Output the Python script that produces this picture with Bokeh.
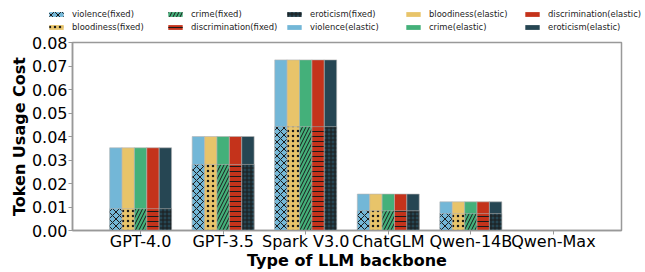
from bokeh.plotting import figure
from bokeh.layouts import column
from bokeh.models import (FactorRange, Range1d, Legend, LegendItem, FixedTicker,
                          NumeralTickFormatter, ColumnDataSource)
from bokeh.transform import dodge
from bokeh.embed import file_html
from bokeh.resources import INLINE

models = ["GPT-4.0", "GPT-3.5", "Spark V3.0", "ChatGLM", "Qwen-14B", "Qwen-Max"]
categories = ["violence", "bloodiness", "crime", "discrimination", "eroticism"]

# token usage cost, fixed strategy
violence_fixed = [0.0093, 0.0281, 0.0442, 0.0084, 0.0072, 0.0]
bloodiness_fixed = [0.0093, 0.0281, 0.0442, 0.0084, 0.0072, 0.0]
crime_fixed = [0.0093, 0.0281, 0.0442, 0.0084, 0.0072, 0.0]
discrimination_fixed = [0.0093, 0.0281, 0.0442, 0.0084, 0.0072, 0.0]
eroticism_fixed = [0.0093, 0.0281, 0.0442, 0.0084, 0.0072, 0.0]

# token usage cost, elastic strategy
violence_elastic = [0.0352, 0.0400, 0.0726, 0.0155, 0.0122, 0.0]
bloodiness_elastic = [0.0352, 0.0400, 0.0726, 0.0155, 0.0122, 0.0]
crime_elastic = [0.0352, 0.0400, 0.0726, 0.0155, 0.0122, 0.0]
discrimination_elastic = [0.0352, 0.0400, 0.0726, 0.0155, 0.0122, 0.0]
eroticism_elastic = [0.0352, 0.0400, 0.0726, 0.0155, 0.0122, 0.0]

y_ticks = [0.00, 0.01, 0.02, 0.03, 0.04, 0.05, 0.06, 0.07, 0.08]

colors = ["#73b7d7", "#e8c46a", "#44b07a", "#c4331b", "#264653"]
hatches = ["x", ".", "/", "-", "+"]
hatch_scales = [7, 5, 7, 5, 4]
offsets = [-0.3, -0.15, 0.0, 0.15, 0.3]
bar_w = 0.15

src = ColumnDataSource(dict(
    model=models,
    violence_fixed=violence_fixed, bloodiness_fixed=bloodiness_fixed,
    crime_fixed=crime_fixed, discrimination_fixed=discrimination_fixed,
    eroticism_fixed=eroticism_fixed,
    violence_elastic=violence_elastic, bloodiness_elastic=bloodiness_elastic,
    crime_elastic=crime_elastic, discrimination_elastic=discrimination_elastic,
    eroticism_elastic=eroticism_elastic,
))

FONT = "DejaVu Sans"
EDGE = "#b4b4b4"
HATCH = "#1a1a1a"


def draw_bars(fig, edge):
    el, fx = {}, {}
    for cat, col, off in zip(categories, colors, offsets):
        el[cat] = fig.vbar(x=dodge("model", off, range=fig.x_range), top=cat + "_elastic",
                           width=bar_w, source=src, fill_color=col, line_color=edge,
                           line_width=0.6)
    for cat, col, h, hs, off in zip(categories, colors, hatches, hatch_scales, offsets):
        fx[cat] = fig.vbar(x=dodge("model", off, range=fig.x_range), top=cat + "_fixed",
                           width=bar_w, source=src, fill_color=col, line_color=edge,
                           line_width=0.6, hatch_pattern=h, hatch_color=HATCH,
                           hatch_scale=hs, hatch_weight=1.0)
    return el, fx


x_range = FactorRange(factors=models, range_padding=0.325, range_padding_units="absolute")

# ---------------- main chart ----------------
p = figure(
    x_range=x_range, y_range=Range1d(0, 0.08),
    width=645, height=239,
    output_backend="svg", toolbar_location=None,
    min_border_left=72, min_border_right=24, min_border_top=9, min_border_bottom=40,
)
p.frame_align = False
draw_bars(p, EDGE)

p.xgrid.grid_line_color = None
p.ygrid.grid_line_color = None
p.outline_line_color = "#999999"
p.outline_line_width = 1.5

p.yaxis.ticker = FixedTicker(ticks=y_ticks)
p.yaxis.formatter = NumeralTickFormatter(format="0.00")
p.yaxis.minor_tick_line_color = None

for ax in (p.xaxis[0], p.yaxis[0]):
    ax.major_label_text_font = FONT
    ax.major_label_text_font_size = "16px"
    ax.major_label_text_color = "black"
    ax.axis_label_text_font = FONT
    ax.axis_label_text_font_size = "16px"
    ax.axis_label_text_font_style = "bold"
    ax.axis_label_text_color = "black"
    ax.axis_line_color = "#999999"
    ax.axis_line_width = 1.5
    ax.major_tick_line_color = "#999999"
    ax.major_tick_out = 4
    ax.major_tick_in = 0

p.xaxis.axis_label = "Type of LLM backbone"
p.yaxis.axis_label = "Token Usage Cost"
p.xaxis.major_label_standoff = -3
p.xaxis.axis_label_standoff = -3
p.yaxis.major_label_standoff = 1
p.yaxis.axis_label_standoff = 0

# ---------------- legend strip above the chart ----------------
# same bars drawn once more in a strip whose y range keeps them out of view;
# they only serve as swatches for the legend
lg_fig = figure(width=645, height=33, output_backend="svg", toolbar_location=None,
                x_range=x_range, y_range=Range1d(1, 2),
                x_axis_location=None, y_axis_location=None, min_border=0)
lg_fig.frame_align = False
lg_fig.outline_line_color = None
lg_fig.xgrid.visible = False
lg_fig.ygrid.visible = False
swatch_elastic, swatch_fixed = draw_bars(lg_fig, None)

# row-major order of a 2-row, 5-column legend (reads column-wise like the reference)
legend_order = [("violence", "fixed"), ("crime", "fixed"), ("eroticism", "fixed"),
                ("bloodiness", "elastic"), ("discrimination", "elastic"),
                ("bloodiness", "fixed"), ("discrimination", "fixed"), ("violence", "elastic"),
                ("crime", "elastic"), ("eroticism", "elastic")]
items = []
for cat, kind in legend_order:
    r = swatch_fixed[cat] if kind == "fixed" else swatch_elastic[cat]
    items.append(LegendItem(label=f"{cat}({kind})", renderers=[r]))

legend = Legend(items=items, orientation="horizontal", nrows=2, location=(47, 1),
                label_text_font=FONT, label_text_font_size="8.4px", label_text_color="#222222",
                glyph_width=18, glyph_height=6, label_standoff=7, label_height=10,
                label_width=91, spacing=3, padding=0, margin=0, border_line_color=None,
                background_fill_alpha=0)
lg_fig.add_layout(legend, "center")

layout = column(lg_fig, p, spacing=0)
open("out.html", "w").write(file_html(layout, INLINE))
